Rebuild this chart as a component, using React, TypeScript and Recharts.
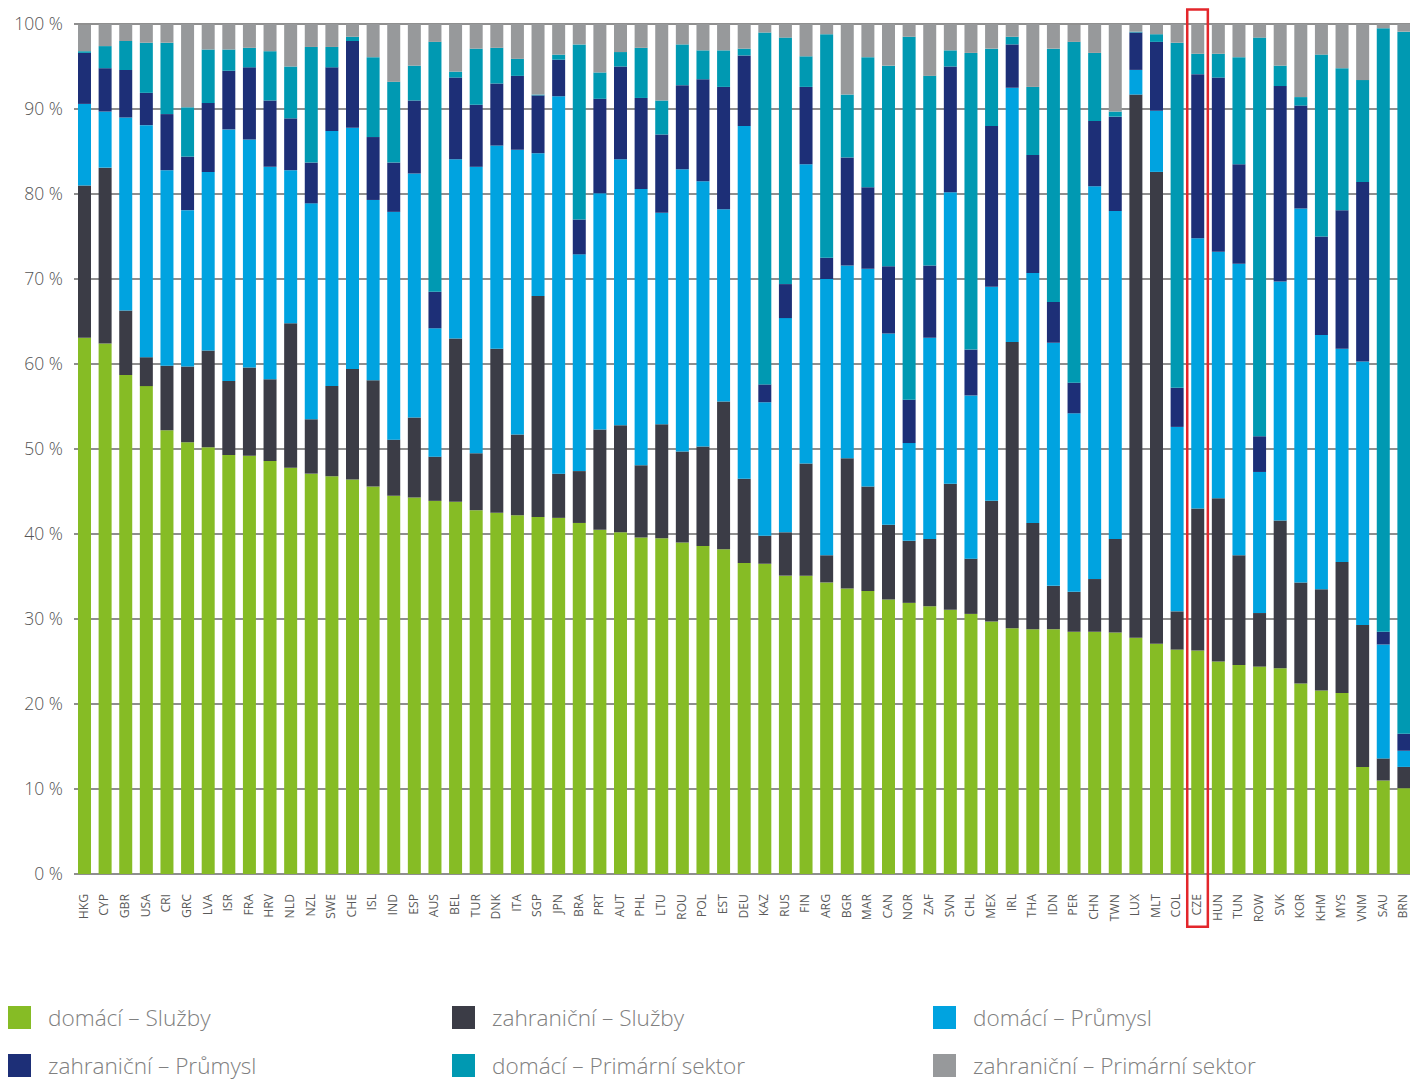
import React from 'react';
import { BarChart, Bar, XAxis, YAxis, CartesianGrid, ReferenceArea } from 'recharts';

const countries = [
  'HKG', 'CYP', 'GBR', 'USA', 'CRI', 'GRC', 'LVA', 'ISR', 'FRA', 'HRV', 'NLD', 'NZL', 'SWE',
  'CHE', 'ISL', 'IND', 'ESP', 'AUS', 'BEL', 'TUR', 'DNK', 'ITA', 'SGP', 'JPN', 'BRA', 'PRT',
  'AUT', 'PHL', 'LTU', 'ROU', 'POL', 'EST', 'DEU', 'KAZ', 'RUS', 'FIN', 'ARG', 'BGR', 'MAR',
  'CAN', 'NOR', 'ZAF', 'SVN', 'CHL', 'MEX', 'IRL', 'THA', 'IDN', 'PER', 'CHN', 'TWN', 'LUX',
  'MLT', 'COL', 'CZE', 'HUN', 'TUN', 'ROW', 'SVK', 'KOR', 'KHM', 'MYS', 'VNM', 'SAU', 'BRN',
];

// domácí – Služby
const domSluzby = [
  63.1, 62.4, 58.7, 57.4, 52.2, 50.8, 50.2, 49.3, 49.2, 48.6, 47.8, 47.1, 46.8,
  46.4, 45.6, 44.5, 44.3, 43.9, 43.8, 42.8, 42.5, 42.2, 42.0, 41.9, 41.3, 40.5,
  40.2, 39.6, 39.5, 39.0, 38.6, 38.2, 36.6, 36.5, 35.1, 35.1, 34.3, 33.6, 33.3,
  32.3, 31.9, 31.5, 31.1, 30.6, 29.7, 28.9, 28.8, 28.8, 28.5, 28.5, 28.4, 27.8,
  27.1, 26.4, 26.3, 25.0, 24.6, 24.4, 24.2, 22.4, 21.6, 21.3, 12.6, 11.0, 10.1,
];
// zahraniční – Služby
const zahSluzby = [
  17.9, 20.7, 7.6, 3.4, 7.6, 8.9, 11.4, 8.7, 10.4, 9.6, 17.0, 6.4, 10.6,
  13.0, 12.5, 6.6, 9.4, 5.2, 19.2, 6.7, 19.3, 9.5, 26.0, 5.2, 6.1, 11.8,
  12.6, 8.5, 13.4, 10.7, 11.7, 17.4, 9.9, 3.3, 5.1, 13.2, 3.2, 15.3, 12.3,
  8.8, 7.3, 7.9, 14.8, 6.5, 14.2, 33.7, 12.5, 5.1, 4.7, 6.2, 11.0, 63.9,
  55.5, 4.5, 16.7, 19.2, 12.9, 6.3, 17.4, 11.9, 11.9, 15.4, 16.7, 2.6, 2.5,
];
// domácí – Průmysl
const domPrumysl = [
  9.6, 6.6, 22.7, 27.3, 23.0, 18.4, 21.0, 29.6, 26.8, 25.0, 18.0, 25.4, 30.0,
  28.4, 21.2, 26.8, 28.7, 15.1, 21.1, 33.7, 23.9, 33.5, 16.8, 44.4, 25.5, 27.8,
  31.3, 32.5, 24.9, 33.2, 31.2, 22.6, 41.5, 15.7, 25.2, 35.2, 32.5, 22.7, 25.6,
  22.5, 11.5, 23.7, 34.3, 19.2, 25.2, 29.9, 29.4, 28.6, 21.0, 46.2, 38.6, 2.9,
  7.2, 21.7, 31.8, 29.0, 34.3, 16.6, 28.1, 44.0, 29.9, 25.1, 31.0, 13.4, 1.9,
];
// zahraniční – Průmysl
const zahPrumysl = [
  6.0, 5.1, 5.6, 3.8, 6.6, 6.3, 8.1, 6.9, 8.5, 7.8, 6.1, 4.8, 7.5,
  10.2, 7.4, 5.8, 8.6, 4.3, 9.6, 7.3, 7.3, 8.7, 6.8, 4.3, 4.1, 11.1,
  10.9, 10.7, 9.2, 9.9, 12.0, 14.4, 8.3, 2.1, 4.0, 9.1, 2.5, 12.7, 9.6,
  7.9, 5.1, 8.5, 14.8, 5.4, 18.9, 5.1, 13.9, 4.8, 3.6, 7.7, 11.1, 4.4,
  8.1, 4.6, 19.3, 20.5, 11.7, 4.2, 23.0, 12.1, 11.6, 16.3, 21.1, 1.5, 2.0,
];
// domácí – Primární sektor
const domPrimarni = [
  0.2, 2.6, 3.4, 5.9, 8.4, 5.8, 6.3, 2.5, 2.3, 5.8, 6.1, 13.6, 2.4,
  0.5, 9.4, 9.5, 4.1, 29.4, 0.7, 6.6, 4.2, 2.0, 0.1, 0.6, 20.6, 3.1,
  1.7, 5.9, 4.0, 4.8, 3.4, 4.3, 0.8, 41.4, 29.0, 3.6, 26.3, 7.4, 15.3,
  23.6, 42.7, 22.3, 1.9, 34.9, 9.1, 0.9, 8.0, 29.8, 40.1, 8.0, 0.6, 0.1,
  0.9, 40.6, 2.4, 2.8, 12.6, 46.9, 2.4, 1.0, 21.4, 16.7, 12.0, 71.0, 82.6,
];
// zahraniční – Primární sektor
const zahPrimarni = [
  3.1, 2.6, 2.0, 2.3, 2.2, 9.8, 3.0, 3.0, 2.8, 3.2, 5.0, 2.7, 2.7,
  1.5, 3.9, 6.8, 4.9, 2.1, 5.6, 3.0, 2.8, 4.1, 8.3, 3.6, 2.4, 5.8,
  3.3, 2.9, 9.1, 2.4, 3.1, 3.1, 2.9, 1.0, 1.6, 3.8, 1.2, 8.3, 3.9,
  4.9, 1.5, 6.2, 3.1, 3.4, 2.9, 1.6, 7.4, 3.0, 2.0, 3.4, 10.4, 0.9,
  1.2, 2.3, 3.6, 3.6, 3.9, 1.6, 4.9, 8.6, 3.6, 5.2, 6.6, 0.5, 1.0,
];

const yTicks = [0, 10, 20, 30, 40, 50, 60, 70, 80, 90, 100];
const highlighted = 'CZE';

const series = [
  { key: 'domSluzby', name: 'domácí – Služby', color: '#86bc25', values: domSluzby },
  { key: 'zahSluzby', name: 'zahraniční – Služby', color: '#3b3c46', values: zahSluzby },
  { key: 'domPrumysl', name: 'domácí – Průmysl', color: '#00a3e0', values: domPrumysl },
  { key: 'zahPrumysl', name: 'zahraniční – Průmysl', color: '#1d2f77', values: zahPrumysl },
  { key: 'domPrimarni', name: 'domácí – Primární sektor', color: '#0099b2', values: domPrimarni },
  { key: 'zahPrimarni', name: 'zahraniční – Primární sektor', color: '#97999b', values: zahPrimarni },
];

const data = countries.map((c, i) => {
  const row: Record<string, string | number> = { country: c };
  series.forEach(s => { row[s.key] = s.values[i]; });
  return row;
});

const FONT = '"Open Sans", "Noto Sans", sans-serif';

const CountryTick = ({ x, y, payload }: any) => (
  <g transform={`translate(${x},${y})`}>
    <text
      transform="rotate(-90)"
      textAnchor="end"
      x={-12}
      dy={3.5}
      fill="#5a5a5a"
      fontSize={12.2}
      fontFamily={FONT}
    >
      {payload.value}
    </text>
  </g>
);

// legend: 3 columns x 2 rows
const legendCols = [8, 452, 933];
const legendRows = [1006, 1054];

export default function App() {
  return (
    <div style={{ position: 'fixed', left: 0, top: 0, width: 1410, height: 1081, overflow: 'hidden', background: '#fff' }}>
      <BarChart
        width={1414}
        height={960}
        data={data}
        margin={{ top: 24, right: 0, bottom: 26, left: 0 }}
      >
        <CartesianGrid vertical={false} stroke="#6a6a6a" strokeWidth={1.5} />
        <XAxis
          dataKey="country"
          interval={0}
          height={60}
          axisLine={false}
          tickLine={false}
          tick={<CountryTick />}
        />
        <YAxis
          width={74}
          domain={[0, 100]}
          ticks={yTicks}
          allowDataOverflow
          axisLine={false}
          tickLine={false}
          tickMargin={5}
          tickFormatter={(v: number) => `${v} %`}
          tick={{ fill: '#555', fontSize: 17.5, fontFamily: FONT, fontWeight: 300 }}
        />
        {series.map(s => (
          <Bar
            key={s.key}
            dataKey={s.key}
            name={s.name}
            stackId="a"
            fill={s.color}
            barSize={13}
            isAnimationActive={false}
          />
        ))}
        <ReferenceArea
          x1={highlighted}
          x2={highlighted}
          y1={-6.2}
          y2={101.7}
          ifOverflow="visible"
          fill="none"
          fillOpacity={0}
          stroke="#e3262b"
          strokeWidth={2.5}
        />
      </BarChart>
      {series.map((s, i) => {
        const left = legendCols[i % 3];
        const top = legendRows[Math.floor(i / 3)];
        return (
          <div key={s.key} style={{ position: 'absolute', left, top, display: 'flex', alignItems: 'center' }}>
            <div style={{ width: 23, height: 23, background: s.color }} />
            <span style={{ marginLeft: 17, fontFamily: FONT, fontSize: 22.6, fontWeight: 300, color: '#808080', lineHeight: '23px', whiteSpace: 'nowrap' }}>
              {s.name}
            </span>
          </div>
        );
      })}
    </div>
  );
}
